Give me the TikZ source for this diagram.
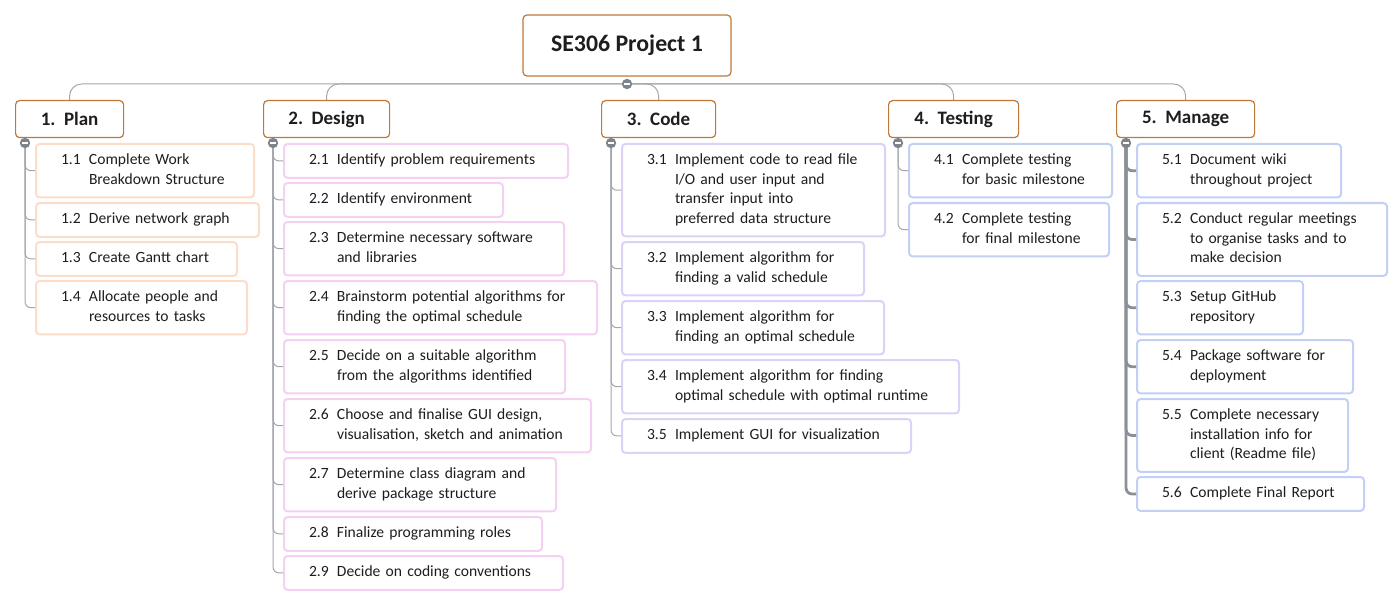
\documentclass[tikz,border=0pt]{standalone}
\usepackage{fontspec}
\setmainfont{Carlito}
\usepackage{tikz}

\definecolor{topline}{HTML}{C0783A}
\definecolor{plancol}{HTML}{FBDDCA}
\definecolor{designcol}{HTML}{F4D0F2}
\definecolor{codecol}{HTML}{DCD1F7}
\definecolor{bluecol}{HTML}{C2D0F5}
\definecolor{wire}{HTML}{A3A6AA}
\definecolor{dotgray}{HTML}{7D848C}
\definecolor{ink}{HTML}{1E1E1E}

\newcommand\wbs[2]{\noindent\makebox[14pt][l]{#1}\begin{tabular}[t]{@{}l@{}}#2\end{tabular}}

\tikzset{
  root/.style={draw=topline, line width=0.6pt, rounded corners=2pt, fill=white, text=ink,
    minimum width=104pt, minimum height=30.5pt, font=\fontsize{11.9}{14}\selectfont\bfseries},
  phase/.style={draw=topline, line width=0.6pt, rounded corners=2pt, fill=white, text=ink,
    anchor=north west, inner sep=0pt, minimum height=18.5pt, font=\fontsize{9.5}{11}\selectfont\bfseries},
  task/.style={draw=#1, line width=1pt, rounded corners=1.8pt, fill=white, text=ink,
    anchor=north west, align=left, inner xsep=12.5pt, inner ysep=3.6pt,
    font=\fontsize{7.8}{9.75}\selectfont},
  boxw/.code={\pgfmathsetmacro\tw{(#1-50)*0.5}\tikzset{text width=\tw pt}},
  phasew/.code={\pgfmathsetmacro\pw{#1*0.5}\tikzset{minimum width=\pw pt}},
  bus/.style={draw=wire, line width=0.5pt, rounded corners=6pt},
  twig/.style={draw=wire, line width=0.5pt, rounded corners=3pt},
}

\begin{document}
\begin{tikzpicture}[x=0.5pt, y=-0.5pt]
  \useasboundingbox (0,0) rectangle (1400,604);

  % top and phases
  \node[root] (root) at (627,45.5) {SE306 Project 1};
  \node[phase, phasew=108] (plan) at (15,100) {1.\hspace{0.45em}Plan};
  \node[phase, phasew=126] (design) at (263,100) {2.\hspace{0.45em}Design};
  \node[phase, phasew=114] (code) at (601,100) {3.\hspace{0.45em}Code};
  \node[phase, phasew=130] (testing) at (888,100) {4.\hspace{0.45em}Testing};
  \node[phase, phasew=138] (manage) at (1116,100) {5.\hspace{0.45em}Manage};

  \coordinate (rootdot) at (627,84);
  \coordinate (plandot) at (25,143);
  \coordinate (designdot) at (273,143);
  \coordinate (codedot) at (611,143);
  \coordinate (testingdot) at (898,143);
  \coordinate (managedot) at (1126,143);

  % plan
  \node[task=plancol, boxw=218] (p1) at (35,143) {\wbs{1.1}{Complete Work\\Breakdown Structure}};
  \node[task=plancol, boxw=223] (p2) at (35,202) {\wbs{1.2}{Derive network graph}};
  \node[task=plancol, boxw=201] (p3) at (35,241) {\wbs{1.3}{Create Gantt chart}};
  \node[task=plancol, boxw=211] (p4) at (35,280) {\wbs{1.4}{Allocate people and\\resources to tasks}};

  % design
  \node[task=designcol, boxw=284] (d1) at (283,143) {\wbs{2.1}{Identify problem requirements}};
  \node[task=designcol, boxw=219] (d2) at (283,182) {\wbs{2.2}{Identify environment}};
  \node[task=designcol, boxw=280] (d3) at (283,221) {\wbs{2.3}{Determine necessary software\\and libraries}};
  \node[task=designcol, boxw=313] (d4) at (283,280) {\wbs{2.4}{Brainstorm potential algorithms for\\finding the optimal schedule}};
  \node[task=designcol, boxw=281] (d5) at (283,339) {\wbs{2.5}{Decide on a suitable algorithm\\from the algorithms identified}};
  \node[task=designcol, boxw=307] (d6) at (283,398) {\wbs{2.6}{Choose and finalise GUI design,\\visualisation, sketch and animation}};
  \node[task=designcol, boxw=272] (d7) at (283,457) {\wbs{2.7}{Determine class diagram and\\derive package structure}};
  \node[task=designcol, boxw=258] (d8) at (283,516) {\wbs{2.8}{Finalize programming roles}};
  \node[task=designcol, boxw=279] (d9) at (283,555) {\wbs{2.9}{Decide on coding conventions}};

  % code
  \node[task=codecol, boxw=263] (c1) at (621,143) {\wbs{3.1}{Implement code to read file\\I/O and user input and\\transfer input into\\preferred data structure}};
  \node[task=codecol, boxw=242] (c2) at (621,241) {\wbs{3.2}{Implement algorithm for\\finding a valid schedule}};
  \node[task=codecol, boxw=262] (c3) at (621,300) {\wbs{3.3}{Implement algorithm for\\finding an optimal schedule}};
  \node[task=codecol, boxw=337] (c4) at (621,359) {\wbs{3.4}{Implement algorithm for finding\\optimal schedule with optimal runtime}};
  \node[task=codecol, boxw=289] (c5) at (621,418) {\wbs{3.5}{Implement GUI for visualization}};

  % testing
  \node[task=bluecol, boxw=203] (t1) at (908,143) {\wbs{4.1}{Complete testing\\for basic milestone}};
  \node[task=bluecol, boxw=200] (t2) at (908,202) {\wbs{4.2}{Complete testing\\for final milestone}};

  % manage
  \node[task=bluecol, boxw=204] (m1) at (1136,143) {\wbs{5.1}{Document wiki\\throughout project}};
  \node[task=bluecol, boxw=250] (m2) at (1136,202) {\wbs{5.2}{Conduct regular meetings\\to organise tasks and to\\make decision}};
  \node[task=bluecol, boxw=166] (m3) at (1136,280) {\wbs{5.3}{Setup GitHub\\repository}};
  \node[task=bluecol, boxw=216] (m4) at (1136,339) {\wbs{5.4}{Package software for\\deployment}};
  \node[task=bluecol, boxw=211] (m5) at (1136,398) {\wbs{5.5}{Complete necessary\\installation info for\\client (Readme file)}};
  \node[task=bluecol, boxw=227] (m6) at (1136,476) {\wbs{5.6}{Complete Final Report}};

  % connectors
  \foreach \b in {plan,design,code,testing,manage}
    \draw[bus] (rootdot) -| (\b.north);
  \foreach \t in {p1,p2,p3,p4}
    \draw[twig] (plandot) |- (\t.west);
  \foreach \t in {d1,d2,d3,d4,d5,d6,d7,d8,d9}
    \draw[twig] (designdot) |- (\t.west);
  \foreach \t in {c1,c2,c3,c4,c5}
    \draw[twig] (codedot) |- (\t.west);
  \foreach \t in {t1,t2}
    \draw[twig] (testingdot) |- (\t.west);
  \foreach \t in {m1,m2,m3,m4,m5,m6}
    \draw[twig, draw=dotgray!90, line width=1.4pt] (managedot) |- (\t.west);

  % collapse dots
  \foreach \d in {rootdot,plandot,designdot,codedot,testingdot,managedot} {
    \fill[dotgray] (\d) circle (2.6pt);
    \draw[white, line width=0.7pt] (\d) ++(-1.5pt,0) -- ++(3pt,0);
  }
\end{tikzpicture}
\end{document}
